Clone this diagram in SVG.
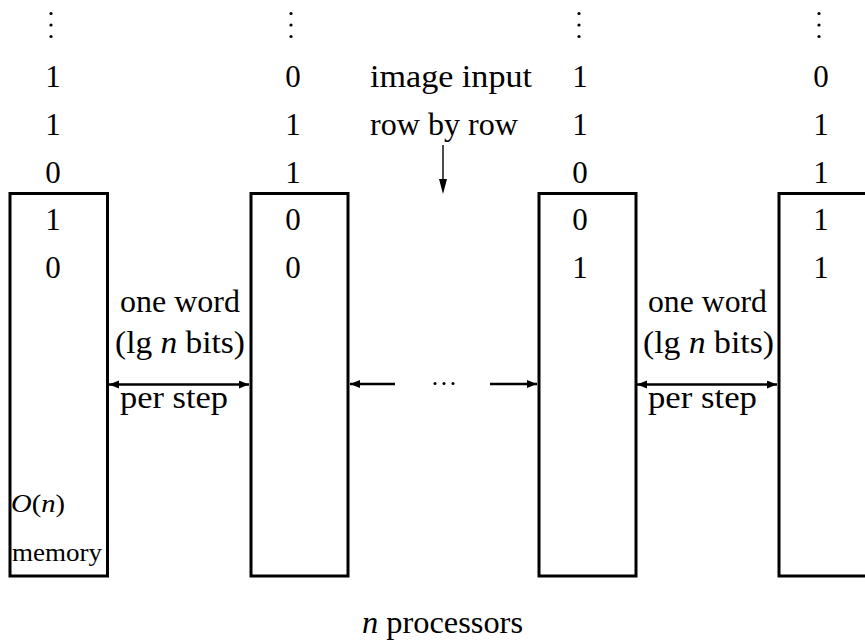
<svg xmlns="http://www.w3.org/2000/svg" width="865" height="642" viewBox="0 0 865 642" font-family="'Liberation Serif', 'DejaVu Serif', serif">
<style>
  .box { fill: none; stroke: #000; stroke-width: 3; }
  text { font-family: "Liberation Serif", "DejaVu Serif", serif; fill: #000; }
  .big { font-size: 31px; }
  .dig { font-size: 31px; text-anchor: middle; }
  .small { font-size: 26px; }
  .it { font-style: italic; }
  .dot { fill: #000; }
  .thick { stroke: #000; stroke-width: 2.6; fill: none; }
  .thin { stroke: #000; stroke-width: 1.4; fill: none; }
</style>
<defs>
  <marker id="ah" markerUnits="userSpaceOnUse" markerWidth="12" markerHeight="10" refX="10" refY="4" orient="auto-start-reverse">
    <path d="M0,0 L10,4 L0,8 Z" fill="#000"/>
  </marker>
</defs>

<g id="proc1">
  <rect class="box" x="10" y="193.5" width="97.5" height="382.5"/>
  <circle class="dot" cx="51" cy="13.5" r="1.6"/>
  <circle class="dot" cx="51" cy="25" r="1.6"/>
  <circle class="dot" cx="51" cy="36.5" r="1.6"/>
  <text class="dig" x="53" y="87">1</text>
  <text class="dig" x="53" y="135">1</text>
  <text class="dig" x="53" y="183">0</text>
  <text class="dig" x="53" y="230">1</text>
  <text class="dig" x="53" y="278">0</text>
  <text class="small" x="11" y="512" textLength="54" lengthAdjust="spacingAndGlyphs"><tspan class="it">O</tspan>(<tspan class="it">n</tspan>)</text>
  <text class="small" x="12" y="561" textLength="90" lengthAdjust="spacingAndGlyphs">memory</text>
</g>

<g id="proc2">
  <rect class="box" x="251" y="193.5" width="97" height="382.5"/>
  <circle class="dot" cx="291" cy="13.5" r="1.6"/>
  <circle class="dot" cx="291" cy="25" r="1.6"/>
  <circle class="dot" cx="291" cy="36.5" r="1.6"/>
  <text class="dig" x="293" y="87">0</text>
  <text class="dig" x="293" y="135">1</text>
  <text class="dig" x="293" y="183">1</text>
  <text class="dig" x="293" y="230">0</text>
  <text class="dig" x="293" y="278">0</text>
</g>

<g id="proc3">
  <rect class="box" x="539" y="193.5" width="97" height="382.5"/>
  <circle class="dot" cx="579" cy="13.5" r="1.6"/>
  <circle class="dot" cx="579" cy="25" r="1.6"/>
  <circle class="dot" cx="579" cy="36.5" r="1.6"/>
  <text class="dig" x="580" y="87">1</text>
  <text class="dig" x="580" y="135">1</text>
  <text class="dig" x="580" y="183">0</text>
  <text class="dig" x="580" y="230">0</text>
  <text class="dig" x="580" y="278">1</text>
</g>

<g id="proc4">
  <rect class="box" x="779" y="193.5" width="100" height="382.5"/>
  <circle class="dot" cx="819" cy="13.5" r="1.6"/>
  <circle class="dot" cx="819" cy="25" r="1.6"/>
  <circle class="dot" cx="819" cy="36.5" r="1.6"/>
  <text class="dig" x="821" y="87">0</text>
  <text class="dig" x="821" y="135">1</text>
  <text class="dig" x="821" y="183">1</text>
  <text class="dig" x="821" y="230">1</text>
  <text class="dig" x="821" y="278">1</text>
</g>

<g id="input-label">
  <text class="big" x="370" y="87" textLength="162" lengthAdjust="spacingAndGlyphs">image input</text>
  <text class="big" x="370" y="135" textLength="148" lengthAdjust="spacingAndGlyphs">row by row</text>
</g>

<g id="link-left-label">
  <text class="big" x="120" y="312" textLength="120" lengthAdjust="spacingAndGlyphs">one word</text>
  <text class="big" x="115" y="353" textLength="130" lengthAdjust="spacingAndGlyphs">(lg <tspan class="it">n</tspan> bits)</text>
  <text class="big" x="120" y="408" textLength="108" lengthAdjust="spacingAndGlyphs">per step</text>
</g>

<g id="link-right-label">
  <text class="big" x="648" y="312" textLength="119" lengthAdjust="spacingAndGlyphs">one word</text>
  <text class="big" x="643" y="353" textLength="131" lengthAdjust="spacingAndGlyphs">(lg <tspan class="it">n</tspan> bits)</text>
  <text class="big" x="648" y="408" textLength="109" lengthAdjust="spacingAndGlyphs">per step</text>
</g>

<g id="ellipsis">
  <circle class="dot" cx="435" cy="383.5" r="1.5"/>
  <circle class="dot" cx="444" cy="383.5" r="1.5"/>
  <circle class="dot" cx="453" cy="383.5" r="1.5"/>
</g>

<g id="footer">
  <text class="big" x="362" y="633" textLength="161" lengthAdjust="spacingAndGlyphs"><tspan class="it">n</tspan> processors</text>
</g>

<g id="connectors">
  <line class="thin" x1="443" y1="145" x2="443" y2="180"/>
  <path d="M439,179 L443,194 L447,179 Z" fill="#000"/>
  <line class="thick" x1="109" y1="384.5" x2="249" y2="384.5" marker-start="url(#ah)" marker-end="url(#ah)"/>
  <line class="thick" x1="637" y1="384.5" x2="777" y2="384.5" marker-start="url(#ah)" marker-end="url(#ah)"/>
  <line class="thick" x1="395" y1="384" x2="350" y2="384" marker-end="url(#ah)"/>
  <line class="thick" x1="490" y1="384" x2="537" y2="384" marker-end="url(#ah)"/>
</g>
</svg>
